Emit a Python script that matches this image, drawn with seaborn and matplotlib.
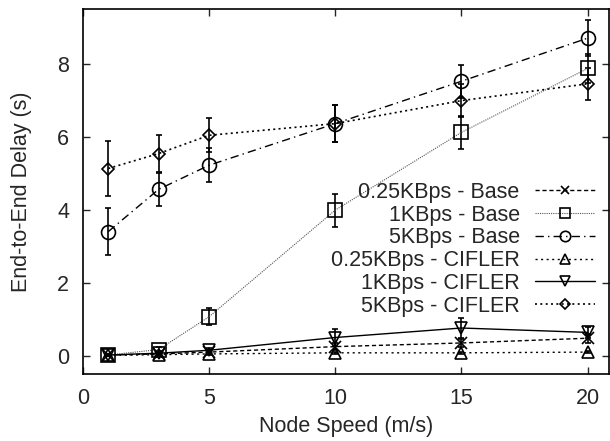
import matplotlib
matplotlib.use("Agg")
import matplotlib.pyplot as plt
import seaborn as sns
import numpy as np

speeds = [1, 3, 5, 10, 15, 20]

base_025 = [0.02, 0.05, 0.10, 0.25, 0.35, 0.48]
base_025_err = [0.02, 0.03, 0.05, 0.10, 0.12, 0.12]
base_1 = [0.02, 0.17, 1.07, 3.99, 6.12, 7.87]
base_1_err = [0.02, 0.08, 0.23, 0.45, 0.45, 0.40]
base_5 = [3.40, 4.56, 5.22, 6.36, 7.52, 8.70]
base_5_err = [0.64, 0.45, 0.46, 0.50, 0.45, 0.50]
cif_025 = [0.01, 0.03, 0.05, 0.08, 0.08, 0.10]
cif_025_err = [0.01, 0.02, 0.03, 0.03, 0.03, 0.03]
cif_1 = [0.02, 0.07, 0.15, 0.50, 0.76, 0.64]
cif_1_err = [0.02, 0.05, 0.06, 0.23, 0.28, 0.15]
cif_5 = [5.13, 5.54, 6.04, 6.36, 6.99, 7.45]
cif_5_err = [0.75, 0.50, 0.47, 0.50, 0.45, 0.43]

labels = ["0.25KBps - Base", "1KBps - Base", "5KBps - Base",
          "0.25KBps - CIFLER", "1KBps - CIFLER", "5KBps - CIFLER"]

sns.set_style("ticks")
plt.rcParams['font.family'] = ['Liberation Sans', 'DejaVu Sans']

FS = 15.5

fig = plt.figure(figsize=(6.10, 4.41), dpi=100)
ax = fig.add_axes([83/610, 1 - 374/441, (609 - 83)/610, (374 - 9)/441])

series = [
    (base_025, base_025_err, 'x', 8, (0, (3, 2)), 1.0, 'black'),
    (base_1, base_1_err, 's', 9.5, (0, (1, 1)), 0.8, '#555555'),
    (base_5, base_5_err, 'o', 10, (0, (6, 3, 1, 3)), 1.0, 'black'),
    (cif_025, cif_025_err, '^', 9, (0, (1.5, 2.5)), 1.0, 'black'),
    (cif_1, cif_1_err, 'v', 9, '-', 1.0, 'black'),
    (cif_5, cif_5_err, 'D', 6.5, (0, (1.2, 2)), 1.2, 'black'),
]

for (vals, errs, mk, ms, ls, lw, col), lab in zip(series, labels):
    ax.errorbar(speeds, vals, yerr=errs, fmt='none', ecolor='black',
                elinewidth=1.2, capsize=2.5, capthick=1.2, zorder=2)
    sns.lineplot(x=speeds, y=vals, ax=ax, marker=mk, markersize=ms,
                 markerfacecolor='none', markeredgecolor='black',
                 markeredgewidth=1.2, linestyle=ls, linewidth=lw,
                 color=col, label=lab, zorder=3)

ax.set_xlim(0, 20.85)
ax.set_ylim(-0.5, 9.5)
ax.set_xticks([0, 5, 10, 15, 20])
ax.set_yticks([0, 2, 4, 6, 8])
ax.tick_params(direction='in', length=5, width=1, labelsize=FS,
               top=True, right=True, pad=10)
for s in ax.spines.values():
    s.set_linewidth(1.2)
    s.set_color('black')

ax.set_xlabel("Node Speed (m/s)", fontsize=FS, labelpad=5)
ax.set_ylabel("End-to-End Delay (s)", fontsize=FS, labelpad=18)

leg = ax.legend(loc='upper right', bbox_to_anchor=(595/610, 1 - 182/441),
                bbox_transform=fig.transFigure, frameon=False,
                markerfirst=False, fontsize=FS, handlelength=2.8,
                handletextpad=0.7, labelspacing=0.08, borderpad=0,
                borderaxespad=0, markerscale=0.75)

fig.savefig("out.png", dpi=100)
